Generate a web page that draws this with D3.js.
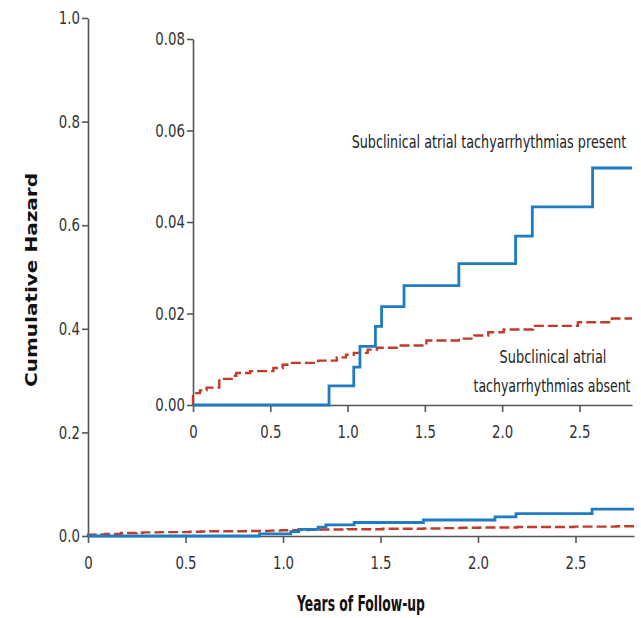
<!DOCTYPE html>
<html>
<head>
<meta charset="utf-8">
<script src="https://cdn.jsdelivr.net/npm/d3@7"></script>
<style>
  body { margin: 0; background: #fff; }
  .tick text { font-family: "Liberation Sans Narrow", "DejaVu Sans", sans-serif; fill: #333; }
  .domain, .tick line { stroke: #555; stroke-width: 1.6; }
</style>
</head>
<body>
<div id="chart"></div>
<script>
// step curves (years, cumulative hazard)
let timesPresent = [0, 0.88, 1.04, 1.08, 1.18, 1.22, 1.365, 1.72, 2.087, 2.195, 2.585]
let hazardPresent = [0, 0.0042, 0.0083, 0.0128, 0.0172, 0.0215, 0.0261, 0.0309, 0.0369, 0.0433, 0.0518]

let timesAbsent = [0, 0, 0.045, 0.088, 0.17, 0.25, 0.28, 0.37, 0.52, 0.58, 0.61, 0.81, 0.93, 0.99, 1.04, 1.13, 1.19, 1.33, 1.51, 1.72, 1.82, 1.91, 2.01, 2.20, 2.49, 2.71]
let hazardAbsent = [0, 0.0026, 0.0032, 0.0038, 0.0057, 0.0064, 0.0070, 0.0074, 0.0081, 0.0088, 0.0092, 0.0097, 0.0104, 0.0110, 0.0114, 0.0121, 0.0125, 0.0130, 0.0141, 0.0145, 0.0152, 0.0159, 0.0165, 0.0173, 0.0181, 0.0189]

let mainXTicks = [0, 0.5, 1.0, 1.5, 2.0, 2.5]
let mainYTicks = [0, 0.2, 0.4, 0.6, 0.8, 1.0]
let insetYTicks = [0, 0.02, 0.04, 0.06, 0.08]

let width = 641
let height = 618
let blue = '#1f7bc2'
let red = '#c23b2a'

let svg = d3.select('#chart').append('svg')
  .attr('width', width)
  .attr('height', height)

// main plot
let x = d3.scaleLinear().domain([0, 2.8]).range([88, 634])
let y = d3.scaleLinear().domain([0, 1]).range([536, 18])

// inset plot
let xi = d3.scaleLinear().domain([0, 2.84]).range([193, 632])
let yi = d3.scaleLinear().domain([0, 0.08]).range([405, 39])

let toPoints = (ts, hs, end) => {
  let pts = ts.map((t, i) => [t, hs[i]])
  pts.push([end, hs[hs.length - 1]])
  return pts
}

// no narrow font installed, so squeeze tick labels horizontally around their anchor
let condense = (sel, factor) => {
  sel.each(function () {
    let t = d3.select(this)
    let tx = +t.attr('x') || 0
    let ty = +t.attr('y') || 0
    t.attr('x', null).attr('y', null)
      .attr('transform', 'translate(' + tx + ',' + ty + ') scale(' + factor + ',1)')
  })
}

let fmt1 = (d) => d === 0 ? '0' : d.toFixed(1)

svg.append('g')
  .attr('transform', 'translate(0,' + y(0) + ')')
  .call(d3.axisBottom(x).tickValues(mainXTicks).tickFormat(fmt1).tickSize(7).tickSizeOuter(0).tickPadding(13))
  .call(g => g.selectAll('text').style('font-size', '18px').call(condense, 0.74))

svg.append('g')
  .attr('transform', 'translate(' + x(0) + ',0)')
  .call(d3.axisLeft(y).tickValues(mainYTicks).tickFormat(d3.format('.1f')).tickSize(6).tickSizeOuter(0).tickPadding(2))
  .call(g => g.selectAll('text').style('font-size', '18px').call(condense, 0.74))

svg.append('g')
  .attr('transform', 'translate(0,' + yi(0) + ')')
  .call(d3.axisBottom(xi).tickValues(mainXTicks).tickFormat(fmt1).tickSize(7).tickSizeOuter(0).tickPadding(13))
  .call(g => g.selectAll('text').style('font-size', '18px').call(condense, 0.74))

svg.append('g')
  .attr('transform', 'translate(' + xi(0) + ',0)')
  .call(d3.axisLeft(yi).tickValues(insetYTicks).tickFormat(d3.format('.2f')).tickSize(6).tickSizeOuter(0).tickPadding(2))
  .call(g => g.selectAll('text').style('font-size', '18px').call(condense, 0.74))

let drawCurves = (sx, sy, end) => {
  let line = d3.line()
    .x(d => sx(d[0]))
    .y(d => sy(d[1]))
    .curve(d3.curveStepAfter)
  svg.append('path')
    .datum(toPoints(timesAbsent, hazardAbsent, end))
    .attr('d', line)
    .attr('fill', 'none')
    .attr('stroke', red)
    .attr('stroke-width', 2.4)
    .attr('stroke-dasharray', '10,4')
  svg.append('path')
    .datum(toPoints(timesPresent, hazardPresent, end))
    .attr('d', line)
    .attr('fill', 'none')
    .attr('stroke', blue)
    .attr('stroke-width', 2.8)
}

drawCurves(x, y, 2.8)
drawCurves(xi, yi, 2.84)

let labelFont = '"Liberation Sans Narrow", "DejaVu Sans", sans-serif'

// text squeezed to a target width
let addText = (tx, ty, str, len, size, weight, rotate) => {
  let t = svg.append('text')
    .attr('text-anchor', 'middle')
    .style('font-family', rotate ? '"DejaVu Sans", sans-serif' : labelFont)
    .style('font-size', size + 'px')
    .style('font-weight', weight)
    .style('fill', weight === 'bold' ? '#111' : '#222')
    .text(str)
  let k = len / t.node().getComputedTextLength()
  t.attr('transform', 'translate(' + tx + ',' + ty + ')' + (rotate ? ' rotate(-90)' : '') + ' scale(' + k + ',1)')
}

addText(489, 148, 'Subclinical atrial tachyarrhythmias present', 275, 18, 'normal')
addText(553, 363, 'Subclinical atrial', 107, 18, 'normal')
addText(552, 392, 'tachyarrhythmias absent', 157, 18, 'normal')
addText(37, 280, 'Cumulative Hazard', 214, 16, 'bold', true)
addText(361, 611, 'Years of Follow-up', 128, 21, 'bold')
</script>
</body>
</html>
